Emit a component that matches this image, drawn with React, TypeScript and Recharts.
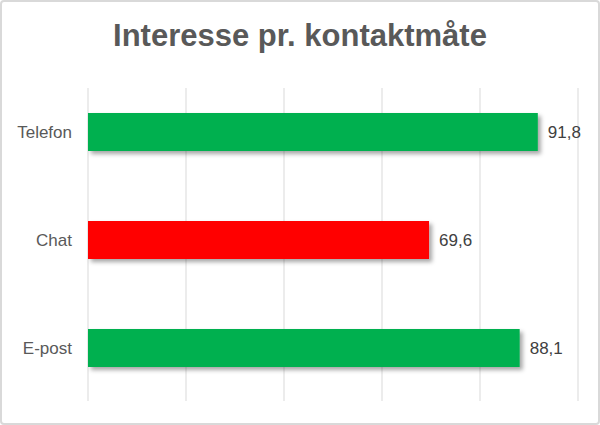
import React from 'react';
import { BarChart, Bar, XAxis, YAxis, CartesianGrid, LabelList, Cell } from 'recharts';

const categories = ['Telefon', 'Chat', 'E-post'];
const values = [91.8, 69.6, 88.1];
const barColors = ['#00B050', '#FF0000', '#00B050'];
const xTicks = [0, 20, 40, 60, 80, 100];

const data = categories.map((name, i) => ({ name, value: values[i] }));

const FONT = '"Liberation Sans", Arial, sans-serif';

// grid lines start a little below the plot top, like the original
const gridLine = (props: any) => (
  <line
    key={`grid-${props.index}`}
    x1={props.x1}
    x2={props.x2}
    y1={props.y1 + 10}
    y2={props.y2 - 1}
    stroke="#d9d9d9"
    strokeWidth={1}
  />
);

export default function App() {
  return (
    <div style={{ position: 'fixed', left: 0, top: 0, width: 600, height: 425, background: '#fff', fontFamily: FONT }}>
      <div
        style={{
          position: 'absolute',
          left: 0,
          top: 18,
          width: 600,
          textAlign: 'center',
          fontSize: 31,
          fontWeight: 'bold',
          color: '#595959',
        }}
      >
        Interesse pr. kontaktmåte
      </div>
      <div style={{ position: 'absolute', left: 0, top: 0 }}>
        <BarChart
          width={600}
          height={425}
          data={data}
          layout="vertical"
          margin={{ top: 78, right: 22, bottom: 23, left: 0 }}
          barSize={38}
        >
          <defs>
            <filter id="barShadow" x="-5%" y="-20%" width="115%" height="160%">
              <feDropShadow dx={3} dy={3} stdDeviation={2} floodColor="#000" floodOpacity={0.35} />
            </filter>
          </defs>
          <CartesianGrid horizontal={false} vertical={gridLine} />
          <XAxis type="number" domain={[0, 100]} ticks={xTicks} hide />
          <YAxis
            type="category"
            dataKey="name"
            width={88}
            axisLine={false}
            tickLine={false}
            tickMargin={10}
            tick={{ fill: '#595959', fontSize: 17, fontFamily: FONT }}
          />
          <Bar dataKey="value" isAnimationActive={false} filter="url(#barShadow)">
            {data.map((d, i) => (
              <Cell key={d.name} fill={barColors[i]} />
            ))}
            <LabelList
              dataKey="value"
              position="right"
              offset={10}
              fill="#404040"
              fontSize={17}
              fontFamily={FONT}
              formatter={(v: any) => Number(v).toFixed(1).replace('.', ',')}
            />
          </Bar>
        </BarChart>
      </div>
      <div
        style={{
          position: 'absolute',
          left: 0,
          top: 0,
          width: 600,
          height: 425,
          boxSizing: 'border-box',
          border: '2px solid #d9d9d9',
          borderRadius: 4,
          pointerEvents: 'none',
        }}
      />
    </div>
  );
}
